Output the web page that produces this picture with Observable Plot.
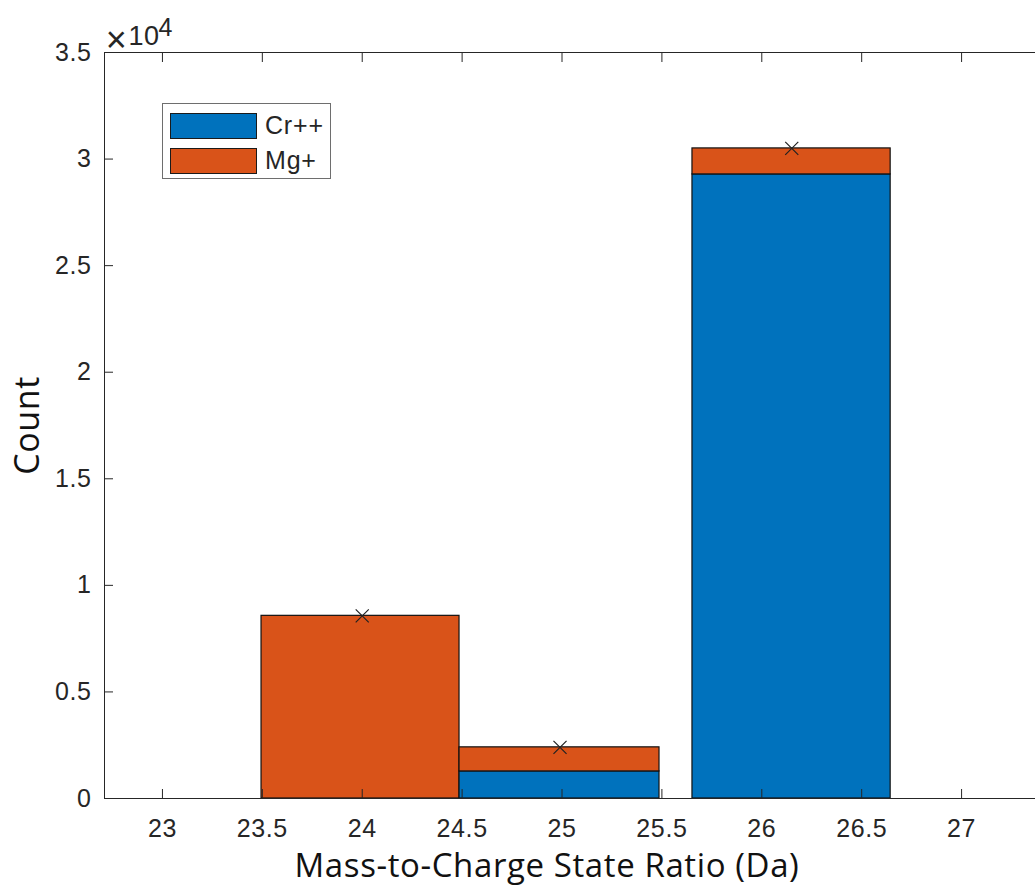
<!DOCTYPE html>
<html>
<head>
<meta charset="utf-8">
<script src="https://cdn.jsdelivr.net/npm/d3@7"></script>
<script src="https://cdn.jsdelivr.net/npm/@observablehq/plot@0.6"></script>
<style>
  html, body { margin: 0; padding: 0; background: #fff; }
  #wrap { position: relative; width: 1035px; height: 890px; overflow: hidden; }
  #wrap svg text { letter-spacing: 0.6px; }
  #legend { position: absolute; left: 162px; top: 103px; width: 167px; height: 74px;
    border: 1px solid #6e6e6e; background: #fff; font-family: "Liberation Sans", Arial, sans-serif;
    font-size: 25px; letter-spacing: 0.8px; color: #262626; }
  .item { position: absolute; left: 7px; display: flex; align-items: center; }
  .sw { width: 85px; height: 24px; border: 1px solid #1a1a1a; margin-right: 8px; }
</style>
</head>
<body>
<div id="wrap"></div>
<script>
// ---- data ----
const species = ["Cr++", "Mg+"];
const speciesColors = ["#0072BD", "#D95319"];
const binLo = [23.496, 24.487, 25.653];
const binHi = [24.487, 25.488, 26.645];
const crCounts = [0, 1270, 29280];
const mgCounts = [8570, 1130, 1220];
const markerX = [24.0, 24.99, 26.15];
const markerY = [8570, 2400, 30500];
const xTicks = [23, 23.5, 24, 24.5, 25, 25.5, 26, 26.5, 27];
const yTicks = [0, 5000, 10000, 15000, 20000, 25000, 30000, 35000];
const xLabel = "Mass-to-Charge State Ratio (Da)";
const yLabel = "Count";

// build stacked rect table
const rows = [];
binLo.forEach((lo, i) => {
  rows.push({x1: lo, x2: binHi[i], y1: 0, y2: crCounts[i], s: species[0]});
  rows.push({x1: lo, x2: binHi[i], y1: crCounts[i], y2: crCounts[i] + mgCounts[i], s: species[1]});
});
const markers = markerX.map((x, i) => ({x, y: markerY[i]}));

const ink = "#262626";
const chart = Plot.plot({
  width: 1035,
  height: 890,
  marginLeft: 104,
  marginRight: 0,
  marginTop: 52,
  marginBottom: 92,
  style: {fontFamily: "'Liberation Sans', Arial, sans-serif", fontSize: "25px", color: ink, background: "#fff", overflow: "visible"},
  x: {domain: [22.71, 27.37]},
  y: {domain: [0, 35000]},
  color: {domain: species, range: speciesColors},
  marks: [
    Plot.rect(rows, {x1: "x1", x2: "x2", y1: "y1", y2: "y2", fill: "s", stroke: "#111", strokeWidth: 1.2}),
    Plot.dot(markers, {x: "x", y: "y", symbol: "times", r: 6, stroke: "#222", strokeWidth: 1.2}),
    Plot.frame({anchor: "left", stroke: ink}),
    Plot.frame({anchor: "top", stroke: ink}),
    Plot.frame({anchor: "bottom", stroke: ink}),
    Plot.axisX(xTicks, {anchor: "bottom", tickSize: 0, tickPadding: 21, label: null, fontSize: 25, tickFormat: d => String(d)}),
    Plot.axisX(xTicks, {anchor: "bottom", tickSize: -9, text: null, label: null, stroke: ink}),
    Plot.axisX(xTicks, {anchor: "top", tickSize: -9, text: null, label: null, stroke: ink}),
    Plot.axisY(yTicks, {anchor: "left", tickSize: 0, tickPadding: 13, label: null, fontSize: 25, tickFormat: d => String(d / 1e4)}),
    Plot.axisY(yTicks, {anchor: "left", tickSize: -9, text: null, label: null, stroke: ink}),
    Plot.text([xLabel], {frameAnchor: "bottom", dx: -23, dy: 78, text: d => d, fontSize: 33, fontFamily: "'Open Sans', sans-serif", fill: "#111"}),
    Plot.text([yLabel], {frameAnchor: "left", textAnchor: "middle", dx: -76, rotate: -90, text: d => d, fontSize: 34, fontFamily: "'Open Sans', sans-serif", fill: "#111"}),
    Plot.text(["\u00d7"], {frameAnchor: "top-left", dx: 12, dy: -12, textAnchor: "middle", lineAnchor: "middle", text: d => d, fontSize: 36, fontWeight: 300, fill: ink}),
    Plot.text(["10"], {frameAnchor: "top-left", dx: 24, dy: -27, textAnchor: "start", lineAnchor: "top", text: d => d, fontSize: 27, fill: ink}),
    Plot.text(["4"], {frameAnchor: "top-left", dx: 54, dy: -34, textAnchor: "start", lineAnchor: "top", text: d => d, fontSize: 25, fill: ink})
  ]
});
const wrap = document.getElementById("wrap");
wrap.appendChild(chart);

// legend
const leg = document.createElement("div");
leg.id = "legend";
species.forEach((s, i) => {
  const it = document.createElement("div");
  it.className = "item";
  it.style.top = (7 + i * 35) + "px";
  const sw = document.createElement("div");
  sw.className = "sw";
  sw.style.background = speciesColors[i];
  const t = document.createElement("span");
  t.textContent = s;
  it.appendChild(sw);
  it.appendChild(t);
  leg.appendChild(it);
});
wrap.appendChild(leg);
</script>
</body>
</html>
